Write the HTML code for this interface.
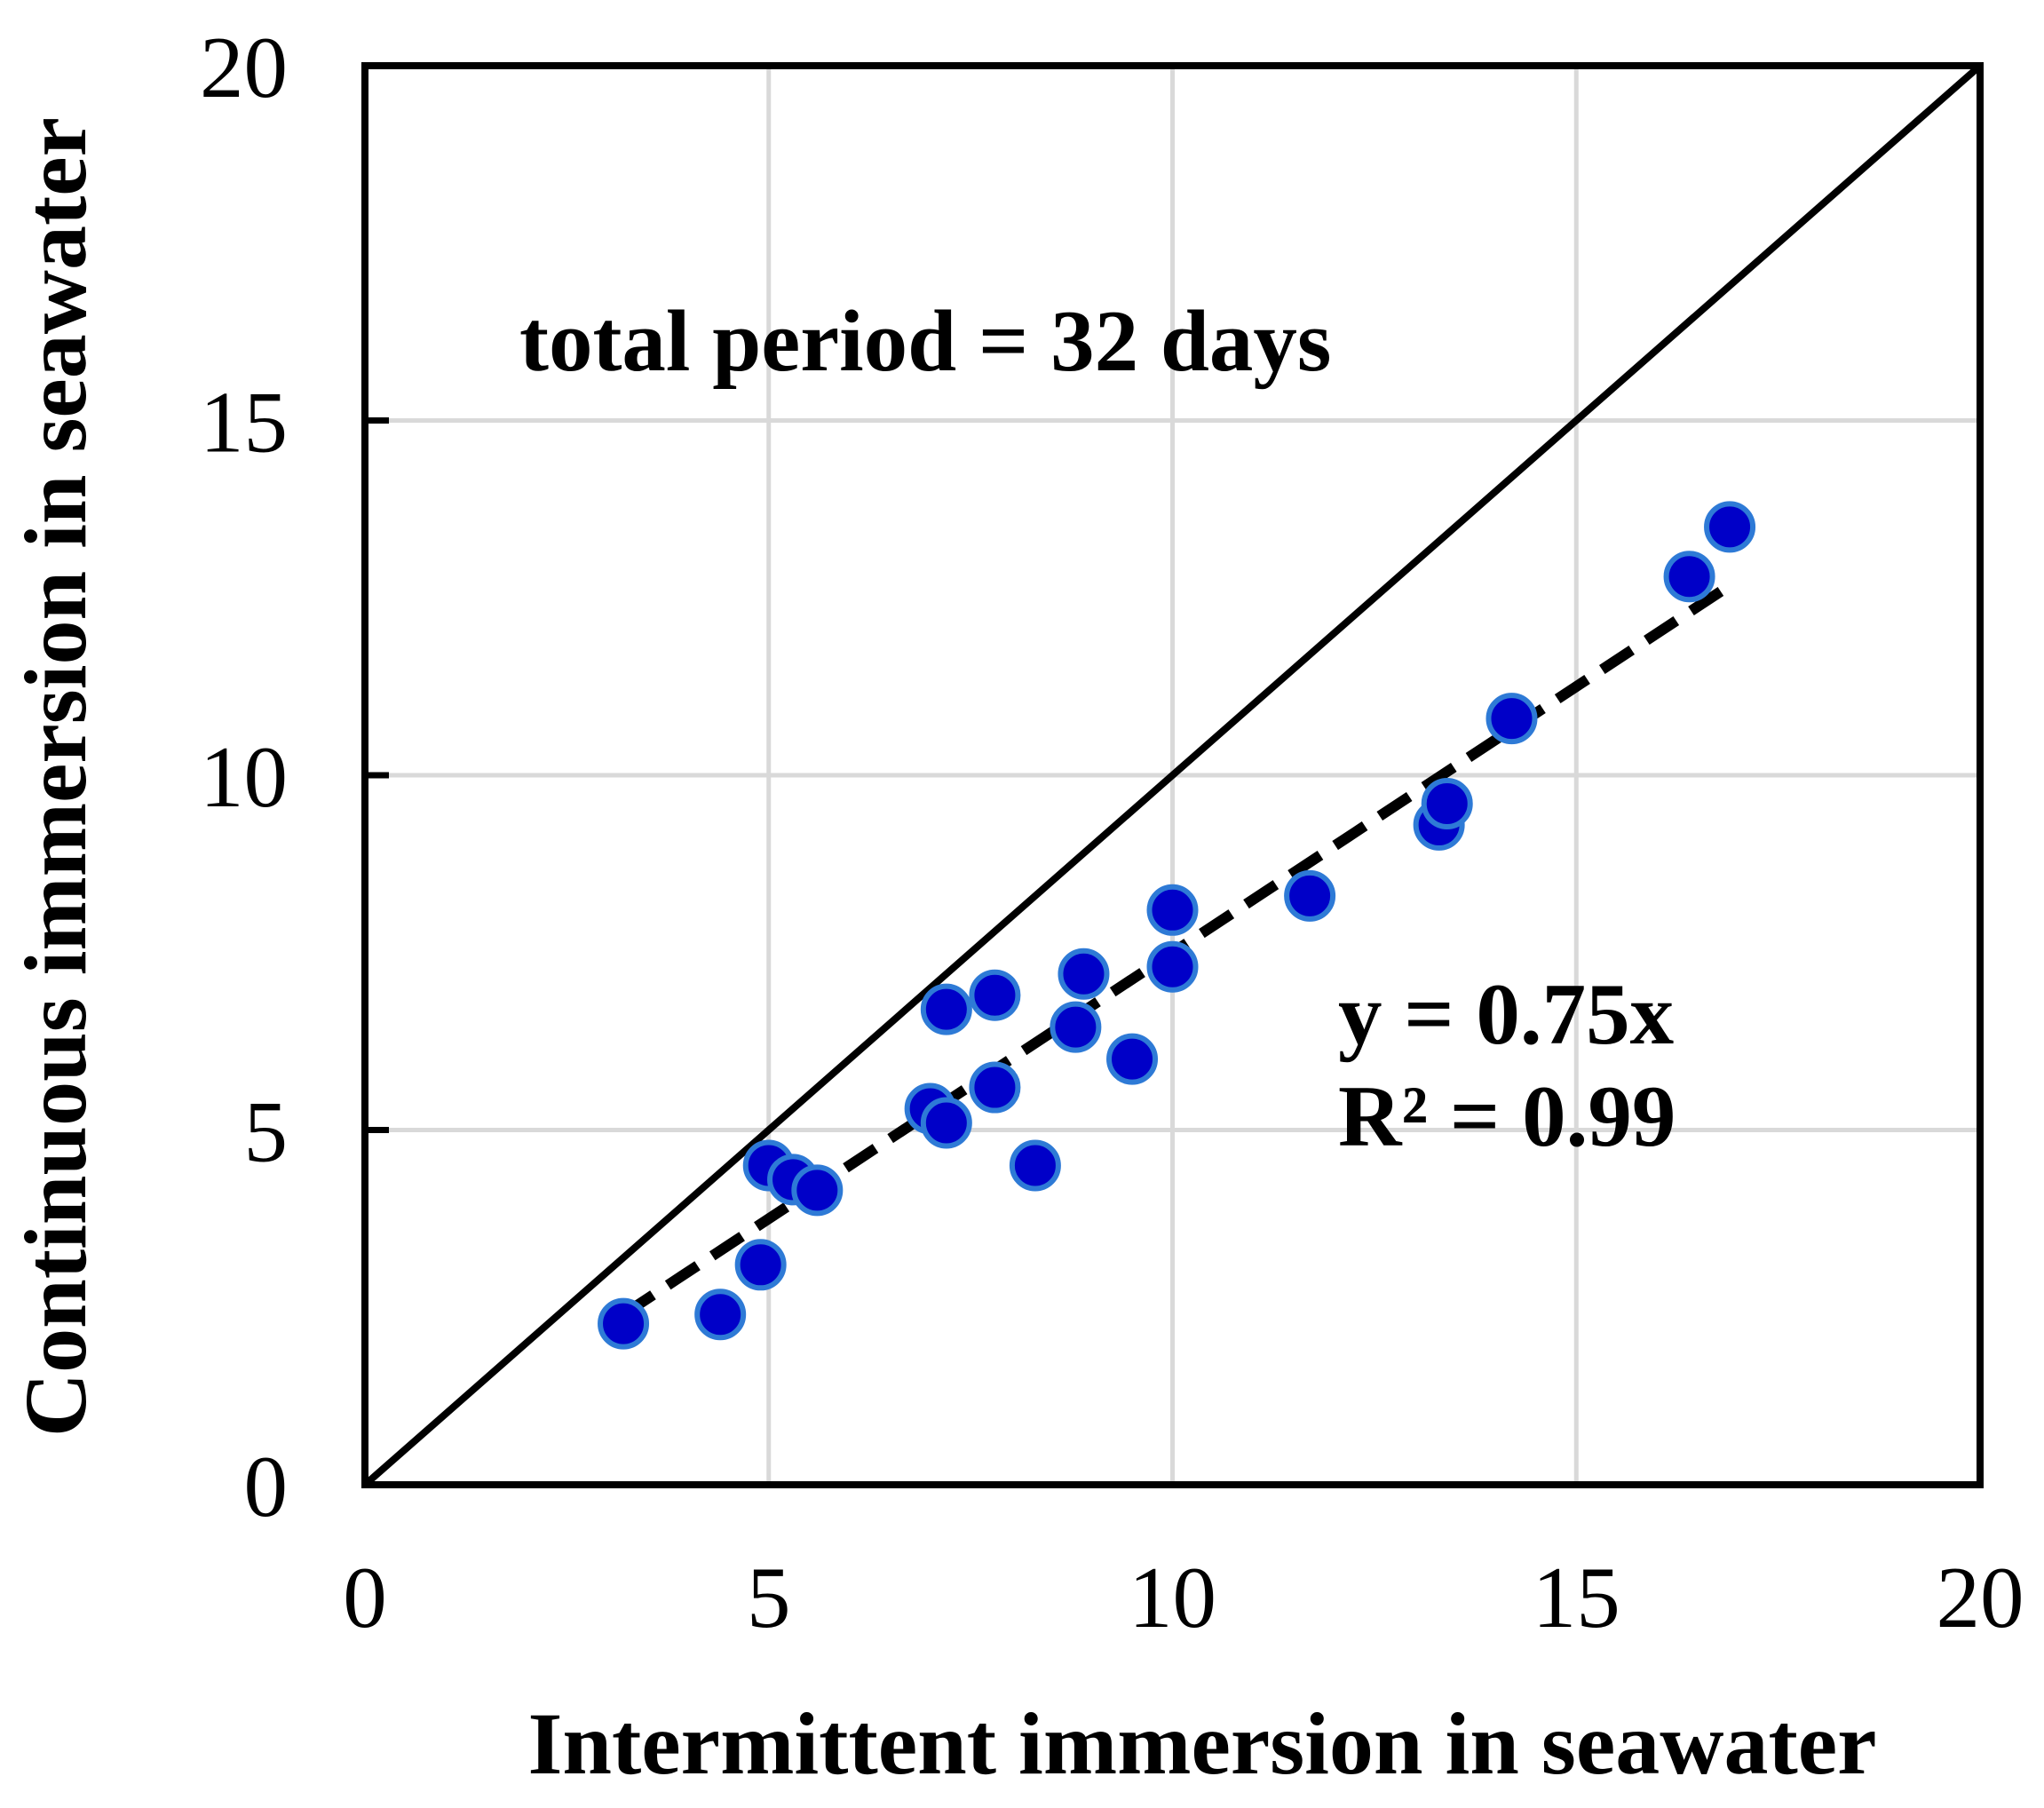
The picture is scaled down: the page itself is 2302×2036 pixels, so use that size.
<!DOCTYPE html>
<html><head><meta charset="utf-8"><style>html,body{margin:0;padding:0;background:#fff}svg{display:block}</style></head>
<body>
<svg id="chart" width="2302" height="2036" xmlns="http://www.w3.org/2000/svg" font-family="'Liberation Serif', serif">
<g id="grid"></g>
<g id="ticks"></g>
<line id="identity" stroke="#000" stroke-width="8"/>
<line id="trend" stroke="#000" stroke-width="12" stroke-dasharray="40,20"/>
<g id="pts"></g>
<rect id="frame" fill="none" stroke="#000" stroke-width="8"/>
<text x="585" y="417" font-size="99" font-weight="bold">total period = 32 days</text>
<text x="1507" y="1175" font-size="99" font-weight="bold">y = 0.75x</text>
<text x="1507" y="1290" font-size="99" font-weight="bold">R² = 0.99</text>
<text x="1354" y="1997" font-size="100" font-weight="bold" text-anchor="middle">Intermittent immersion in seawater</text>
<text transform="translate(96,875) rotate(-90)" font-size="100" font-weight="bold" text-anchor="middle">Continuous immersion in seawater</text>
</svg>
<script>
const xTicks=[0,5,10,15,20];
const yTicks=[0,5,10,15,20];
const xVals=[3.2,4.4,4.9,5.0,5.3,5.6,7.0,7.2,7.2,7.8,7.8,8.3,8.8,8.9,9.5,10.0,10.0,11.7,13.3,13.4,14.2,16.4,16.9];
const yVals=[2.27,2.4,3.1,4.5,4.3,4.15,5.3,5.1,6.7,6.9,5.6,4.5,6.45,7.2,6.0,7.3,8.1,8.3,9.3,9.6,10.8,12.8,13.5];
const slope=0.75;
const trendRange=[3.2,16.9];
const L=411,R=2230,T=74,B=1672;
const sx=v=>L+(R-L)*v/20, sy=v=>B-(B-T)*v/20;
const NS='http://www.w3.org/2000/svg';
function mk(tag,attrs,parent){const e=document.createElementNS(NS,tag);for(const k in attrs)e.setAttribute(k,attrs[k]);parent.appendChild(e);return e;}
const g=document.getElementById('grid'),tk=document.getElementById('ticks');
xTicks.forEach(v=>{
 if(v>0&&v<20){const l=mk('line',{x1:sx(v),x2:sx(v),y1:T,y2:B,stroke:'#d9d9d9','stroke-width':5},g);
 
 }
 const t=mk('text',{x:sx(v),y:1832,'font-size':99,'text-anchor':'middle'},tk);t.textContent=v;
 
 
});
yTicks.forEach(v=>{
 if(v>0&&v<20){const l=mk('line',{x1:L,x2:R,y1:sy(v),y2:sy(v),stroke:'#d9d9d9','stroke-width':5},g);
 
 
 const m=mk('line',{x1:L,x2:L+27,y1:sy(v),y2:sy(v),stroke:'#000','stroke-width':7},tk);
 
 }
 const t=mk('text',{x:324,y:sy(v)+35,'font-size':99,'text-anchor':'end'},tk);t.textContent=v;
 
 
});
const id=document.getElementById('identity');
id.setAttribute('x1',sx(0));id.setAttribute('y1',sy(0));id.setAttribute('x2',sx(20));id.setAttribute('y2',sy(20));
const tr=document.getElementById('trend');
tr.setAttribute('x1',sx(trendRange[0]));tr.setAttribute('y1',sy(slope*trendRange[0]));
tr.setAttribute('x2',sx(trendRange[1]));tr.setAttribute('y2',sy(slope*trendRange[1]));
const pg=document.getElementById('pts');
xVals.forEach((x,i)=>{
 const c=mk('circle',{cx:sx(x),cy:sy(yVals[i]),r:26,fill:'#0000c8',stroke:'#2e7ad6','stroke-width':6},pg);
 
 
});
const f=document.getElementById('frame');
f.setAttribute('x',L);f.setAttribute('y',T);f.setAttribute('width',R-L);f.setAttribute('height',B-T);
</script>
</body></html>
